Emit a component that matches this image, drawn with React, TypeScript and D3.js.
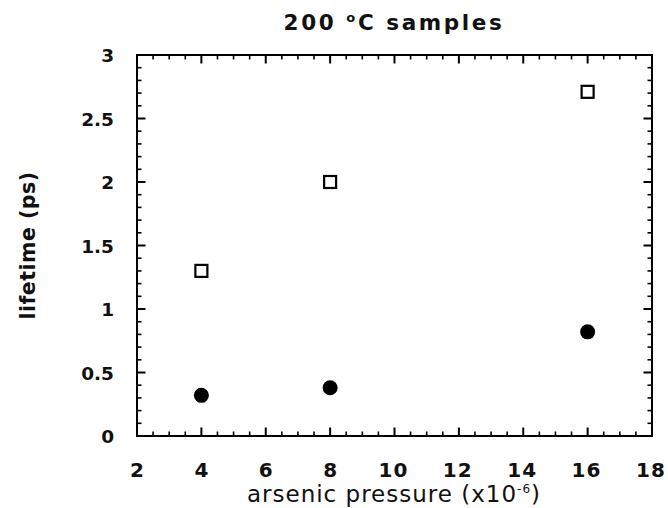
import React from "react";
import * as d3 from "d3";

const pressures = [4, 8, 16];
const squareLifetimes = [1.3, 2.0, 2.71];
const circleLifetimes = [0.32, 0.38, 0.82];
const xTicks = [2, 4, 6, 8, 10, 12, 14, 16, 18];
const yTicks = [0, 0.5, 1, 1.5, 2, 2.5, 3];
const yTickLabels = ["0", "0.5", "1", "1.5", "2", "2.5", "3"];

const W = 668, H = 508;
const L = 137, R = 652, T = 55, B = 436;

export default function App() {
  const x = d3.scaleLinear().domain([2, 18]).range([L, R]);
  const y = d3.scaleLinear().domain([0, 3]).range([B, T]);
  const xMinor = d3.range(2, 18.01, 0.5).filter((v) => Math.abs(v / 2 - Math.round(v / 2)) > 1e-6);
  const yMinor = d3.range(0, 3.001, 0.1).filter((v) => Math.abs(v / 0.5 - Math.round(v / 0.5)) > 1e-6);
  const font = "DejaVu Sans, Verdana, sans-serif";
  const major = 8.5, minor = 4.5;
  return (
    <svg width={W} height={H} style={{ position: "absolute", left: 0, top: 0, background: "#fff" }}>
      <rect x={0} y={0} width={W} height={H} fill="#fff" />
      <g stroke="#000" strokeWidth={2} fill="none">
        <rect x={L} y={T} width={R - L} height={B - T} />
        {xTicks.map((v) => (
          <g key={"xm" + v}>
            <line x1={x(v)} x2={x(v)} y1={B} y2={B - major} />
            <line x1={x(v)} x2={x(v)} y1={T} y2={T + major} />
          </g>
        ))}
        {xMinor.map((v) => (
          <g key={"xn" + v}>
            <line x1={x(v)} x2={x(v)} y1={B} y2={B - minor} strokeWidth={1.6} />
            <line x1={x(v)} x2={x(v)} y1={T} y2={T + minor} strokeWidth={1.6} />
          </g>
        ))}
        {yTicks.map((v) => (
          <g key={"ym" + v}>
            <line x1={L} x2={L + major} y1={y(v)} y2={y(v)} />
            <line x1={R} x2={R - major} y1={y(v)} y2={y(v)} />
          </g>
        ))}
        {yMinor.map((v) => (
          <g key={"yn" + v}>
            <line x1={L} x2={L + minor} y1={y(v)} y2={y(v)} strokeWidth={1.6} />
            <line x1={R} x2={R - minor} y1={y(v)} y2={y(v)} strokeWidth={1.6} />
          </g>
        ))}
      </g>
      <g fontFamily={font} fontWeight="bold" fill="#111">
        {xTicks.map((v) => (
          <text
            key={"xl" + v}
            x={x(v) - (v >= 10 ? 1 : 0)}
            y={477}
            textAnchor="middle"
            fontSize={20}
            letterSpacing={v >= 10 ? 1.2 : 0}
          >
            {String(v)}
          </text>
        ))}
        {yTicks.map((v, i) => (
          <text key={"yl" + v} x={114} y={y(v) + 7} textAnchor="end" fontSize={18.5}>
            {yTickLabels[i]}
          </text>
        ))}
      </g>
      <text
        x={394}
        y={30}
        textAnchor="middle"
        fontFamily={font}
        fontWeight="bold"
        fontSize={21.5}
        letterSpacing={2.6}
        fill="#111"
      >
        200 <tspan dy={-8} fontSize={13}>o</tspan><tspan dy={8}>C samples</tspan>
      </text>
      <text
        transform={`translate(35, ${(T + B) / 2}) rotate(-90)`}
        textAnchor="middle"
        fontFamily={font}
        fontWeight="bold"
        fontSize={20.5}
        letterSpacing={0.5}
        fill="#111"
      >
        lifetime (ps)
      </text>
      <text
        x={394}
        y={502}
        textAnchor="middle"
        fontFamily={font}
        fontSize={23}
        letterSpacing={1}
        fill="#111"
      >
        arsenic pressure (x10<tspan dy={-9} fontSize={12}>-6</tspan><tspan dy={9}>)</tspan>
      </text>
      <g>
        {pressures.map((p, i) => (
          <rect
            key={"s" + p}
            x={x(p) - 6}
            y={y(squareLifetimes[i]) - 6}
            width={12}
            height={12}
            fill="#fff"
            stroke="#000"
            strokeWidth={2.2}
          />
        ))}
        {pressures.map((p, i) => (
          <circle key={"c" + p} cx={x(p)} cy={y(circleLifetimes[i])} r={7.5} fill="#000" />
        ))}
      </g>
    </svg>
  );
}
